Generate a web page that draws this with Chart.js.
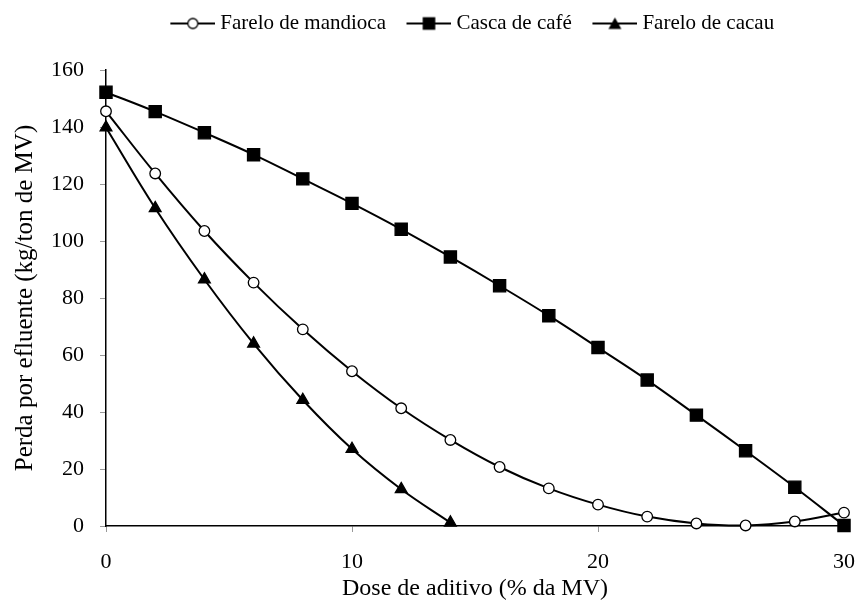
<!DOCTYPE html>
<html>
<head>
<meta charset="utf-8">
<script src="https://cdn.jsdelivr.net/npm/chart.js@4.4.0/dist/chart.umd.min.js"></script>
<style>
  html, body { margin: 0; padding: 0; background: #fff; }
  #wrap { width: 858px; height: 605px; }
</style>
</head>
<body>
<div id="wrap"><canvas id="effluentChart"></canvas></div>
<script>
// dose de aditivo (% da MV)
const doses = [0, 2, 4, 6, 8, 10, 12, 14, 16, 18, 20, 22, 24, 26, 28, 30];
// perda por efluente (kg/ton de MV)
const mandioca = [145.5, 123.7, 103.5, 85.4, 69, 54.3, 41.3, 30.2, 20.7, 13.2, 7.5, 3.3, 0.9, 0.2, 1.6, 4.7];
const casca = [152.2, 145.4, 138, 130.3, 121.8, 113.2, 104.1, 94.4, 84.3, 73.8, 62.6, 51.2, 38.9, 26.4, 13.6, 0.2];
const cacau = [139.8, 111.5, 86.5, 64, 44.2, 27, 12.9, 1.2];
const seriesNames = ['Farelo de mandioca', 'Casca de café', 'Farelo de cacau'];
const xTicks = [0, 10, 20, 30];
const yTicks = [0, 20, 40, 60, 80, 100, 120, 140, 160];

const FONT = 'Liberation Serif';

function toPoints(ys) {
  return ys.map((y, i) => ({x: doses[i], y: y}));
}

// legend icon: line segment with the marker in the middle
function legendIcon(style) {
  const c = document.createElement('canvas');
  c.width = 61; c.height = 20;
  const g = c.getContext('2d');
  g.strokeStyle = '#000';
  g.lineWidth = 2;
  g.beginPath(); g.moveTo(16, 10); g.lineTo(61, 10); g.stroke();
  g.fillStyle = '#000';
  g.lineWidth = 1.3;
  if (style === 'circle') {
    g.fillStyle = '#fff';
    g.beginPath(); g.arc(38.5, 10, 5, 0, Math.PI * 2); g.fill(); g.stroke();
  } else if (style === 'rect') {
    g.fillRect(32.2, 3.7, 12.6, 12.6);
  } else {
    g.beginPath(); g.moveTo(38.5, 4); g.lineTo(45, 15.5); g.lineTo(32, 15.5); g.closePath(); g.fill();
  }
  return c;
}
const icons = [legendIcon('circle'), legendIcon('rect'), legendIcon('triangle')];

// nudge the legend to where the original figure has it
const legendPlacer = {
  id: 'legendPlacer',
  afterLayout(chart) {
    const lg = chart.legend;
    lg.top -= 26; lg.bottom -= 26;
    lg.left += 45; lg.right += 45;
  }
};

const common = {
  borderColor: '#000',
  borderWidth: 2,
  tension: 0.4,
  pointBorderColor: '#000',
  pointBorderWidth: 1.3,
  clip: false
};

const ctx = document.getElementById('effluentChart');
const chart = new Chart(ctx, {
  type: 'line',
  data: {
    datasets: [
      Object.assign({}, common, {
        label: seriesNames[0],
        data: toPoints(mandioca),
        pointStyle: 'circle',
        pointRadius: 5.3,
        pointBackgroundColor: '#fff'
      }),
      Object.assign({}, common, {
        label: seriesNames[1],
        data: toPoints(casca),
        pointStyle: 'rect',
        pointRadius: 8.6,
        pointBackgroundColor: '#000'
      }),
      Object.assign({}, common, {
        label: seriesNames[2],
        data: toPoints(cacau),
        pointStyle: 'triangle',
        pointRadius: 6.8,
        pointBackgroundColor: '#000'
      })
    ]
  },
  plugins: [legendPlacer],
  options: {
    responsive: true,
    maintainAspectRatio: false,
    animation: false,
    layout: { padding: { top: 29, right: 14, bottom: 0, left: 0 } },
    plugins: {
      tooltip: { enabled: false },
      legend: {
        position: 'top',
        labels: {
          usePointStyle: true,
          pointStyleWidth: 50,
          padding: 10,
          color: '#000',
          font: { family: FONT, size: 21 },
          generateLabels: (c) => Chart.defaults.plugins.legend.labels.generateLabels(c).map((it, i) => {
            it.pointStyle = icons[i];
            return it;
          })
        }
      }
    },
    scales: {
      x: {
        type: 'linear',
        min: 0,
        max: 30,
        afterBuildTicks: (s) => { s.ticks = xTicks.map(v => ({value: v})); },
        afterFit: (s) => { s.height = 79; s.paddingRight = 0; s.paddingLeft = 0; },
        border: { color: '#000', width: 1.5 },
        grid: { drawOnChartArea: false, drawTicks: true, tickLength: 6, color: '#999' },
        ticks: { color: '#000', padding: 17, font: { family: FONT, size: 22 } },
        title: {
          display: true,
          text: 'Dose de aditivo (% da MV)',
          color: '#000',
          font: { family: FONT, size: 24 },
          padding: { top: 0, bottom: 2 }
        }
      },
      y: {
        min: 0,
        max: 160,
        afterBuildTicks: (s) => { s.ticks = yTicks.map(v => ({value: v})); },
        afterFit: (s) => { s.width = 106; },
        border: { color: '#000', width: 1.5 },
        grid: { drawOnChartArea: false, drawTicks: true, tickLength: 6, color: '#999' },
        ticks: { color: '#000', padding: 16, font: { family: FONT, size: 22 } },
        title: {
          display: true,
          text: 'Perda por efluente (kg/ton de MV)',
          color: '#000',
          font: { family: FONT, size: 25 },
          padding: { top: 10, bottom: 0 }
        }
      }
    }
  }
});
</script>
</body>
</html>
